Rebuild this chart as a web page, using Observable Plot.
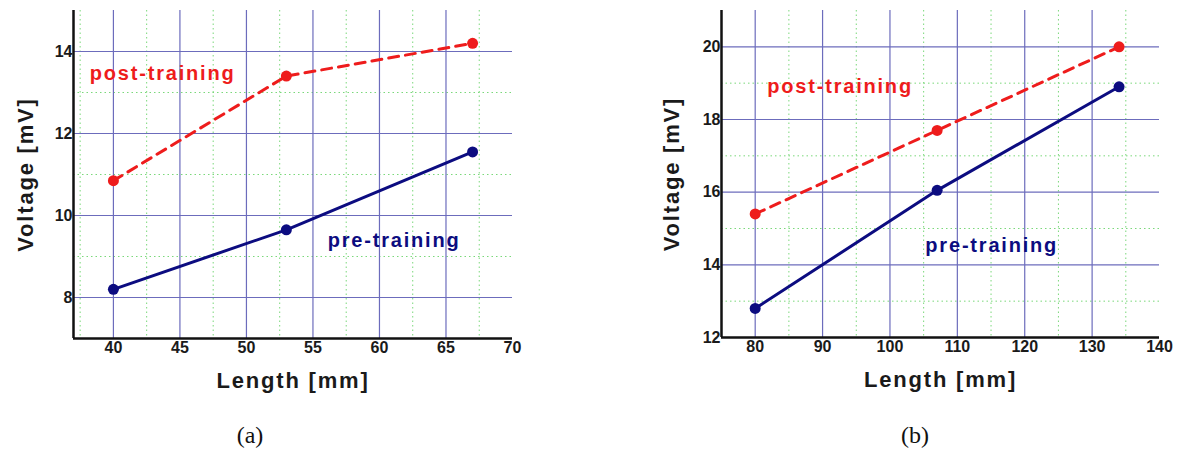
<!DOCTYPE html>
<html><head><meta charset="utf-8">
<script src="https://cdn.jsdelivr.net/npm/d3@7"></script>
<script src="https://cdn.jsdelivr.net/npm/@observablehq/plot@0.6"></script>
<style>
body{margin:0;background:#fff;width:1182px;height:455px;position:relative;overflow:hidden;font-family:"Liberation Sans",Arial,sans-serif;}
.panel{position:absolute;top:0;}
.panel svg text{font-weight:bold !important;}
.panel svg g[aria-label$="tick label"] text{font-size:16px !important;fill:#1a1a1a;}
.cap{position:absolute;font-family:"Liberation Serif","Times New Roman",serif;font-size:24px;color:#111;transform:translateX(-50%);}
</style></head><body>
<div id="a" class="panel" style="left:0"></div>
<div id="b" class="panel" style="left:640px"></div>
<div class="cap" style="left:250px;top:422px">(a)</div>
<div class="cap" style="left:915px;top:422px">(b)</div>
<script>
// Panel (a)
const lengthA = [40, 53, 67];
const postA = [10.85, 13.4, 14.2];
const preA = [8.2, 9.65, 11.55];
const xDomainA = [37, 70];
const yDomainA = [7, 15];
const xTicksA = [40, 45, 50, 55, 60, 65, 70];
const yTicksA = [8, 10, 12, 14];
const xGridA = [40, 45, 50, 55, 60, 65];
const yGridA = [8, 10, 12, 14];
const xMinorA = [37.5, 42.5, 47.5, 52.5, 57.5, 62.5, 67.5];
const yMinorA = [9, 11, 13];
const labelsA = [{x: 43.7, y: 13.46, text: "post-training", series: "post"}, {x: 61.1, y: 9.39, text: "pre-training", series: "pre"}];

// Panel (b)
const lengthB = [80, 107, 134];
const postB = [15.4, 17.7, 20.0];
const preB = [12.8, 16.05, 18.9];
const xDomainB = [75, 140];
const yDomainB = [12, 21];
const xTicksB = [80, 90, 100, 110, 120, 130, 140];
const yTicksB = [12, 14, 16, 18, 20];
const xGridB = [80, 90, 100, 110, 120, 130];
const yGridB = [14, 16, 18, 20];
const xMinorB = [85, 95, 105, 115, 125, 135];
const yMinorB = [13, 15, 17, 19];
const labelsB = [{x: 92.6, y: 18.9, text: "post-training", series: "post"}, {x: 115.1, y: 14.54, text: "pre-training", series: "pre"}];

const RED = "#ee1c1c", BLUE = "#0c0c80";
const majorC = "#6c6cbc", minorC = "#7ad87a";

function panel(cfg) {
  const post = cfg.len.map((x, i) => ({x, y: cfg.post[i]}));
  const pre = cfg.len.map((x, i) => ({x, y: cfg.pre[i]}));
  const svg = Plot.plot({
    width: cfg.width, height: 400,
    marginLeft: cfg.ml, marginRight: cfg.width - cfg.plotRight, marginTop: 10, marginBottom: 400 - cfg.plotBottom,
    x: {domain: cfg.xd, axis: null},
    y: {domain: cfg.yd, axis: null},
    style: {fontFamily: "'Liberation Sans', Arial, sans-serif", background: "transparent"},
    marks: [
      Plot.ruleY(cfg.yMinor, {stroke: minorC, strokeWidth: 1, strokeDasharray: "1.5,3"}),
      Plot.ruleX(cfg.xMinor, {stroke: minorC, strokeWidth: 1, strokeDasharray: "1.5,3"}),
      Plot.ruleY(cfg.yGrid, {stroke: majorC, strokeWidth: 1.2}),
      Plot.ruleX(cfg.xGrid, {stroke: majorC, strokeWidth: 1.2}),
      Plot.ruleX([cfg.xd[0]], {stroke: "#111", strokeWidth: 2.5}),
      Plot.ruleY([cfg.yd[0]], {stroke: "#111", strokeWidth: 2.5}),
      Plot.axisX(cfg.xTicks, {tickSize: 0, tickPadding: 3, fontSize: 16, fontWeight: "bold", label: null}),
      Plot.axisY(cfg.yTicks, {tickSize: 0, tickPadding: 1, fontSize: 16, fontWeight: "bold", label: null}),
      Plot.line(post, {x: "x", y: "y", stroke: RED, strokeWidth: 3, strokeDasharray: "10,7"}),
      Plot.line(pre, {x: "x", y: "y", stroke: BLUE, strokeWidth: 3}),
      Plot.dot(post, {x: "x", y: "y", r: 5.5, fill: RED}),
      Plot.dot(pre, {x: "x", y: "y", r: 5.5, fill: BLUE}),
      Plot.text(cfg.labels, {x: "x", y: "y", text: "text", fill: d => d.series === "post" ? RED : BLUE, fontSize: 20, fontWeight: "bold"}),
      Plot.text(["Length [mm]"], {frameAnchor: "bottom", dy: 42, lineAnchor: "middle", textAnchor: "middle", fontSize: 22, fontWeight: "bold", fill: "#1a1a1a"}),
      Plot.text(["Voltage [mV]"], {frameAnchor: "left", dx: cfg.ylabDx, rotate: -90, textAnchor: "middle", lineAnchor: "middle", fontSize: 22, fontWeight: "bold", fill: "#1a1a1a"})
    ]
  });
  d3.select(svg).selectAll('g[aria-label="text"] text').style("letter-spacing", "1.8px");
  return svg;
}

document.getElementById("a").append(panel({
  width: 530, ml: 73, plotRight: 512, plotBottom: 338,
  xd: xDomainA, yd: yDomainA, len: lengthA, post: postA, pre: preA,
  xTicks: xTicksA, yTicks: yTicksA, xGrid: xGridA, yGrid: yGridA, xMinor: xMinorA, yMinor: yMinorA,
  labels: labelsA, ylabDx: -48
}));
document.getElementById("b").append(panel({
  width: 540, ml: 81, plotRight: 1159 - 640, plotBottom: 337,
  xd: xDomainB, yd: yDomainB, len: lengthB, post: postB, pre: preB,
  xTicks: xTicksB, yTicks: yTicksB, xGrid: xGridB, yGrid: yGridB, xMinor: xMinorB, yMinor: yMinorB,
  labels: labelsB, ylabDx: -50
}));
</script>
</body></html>
